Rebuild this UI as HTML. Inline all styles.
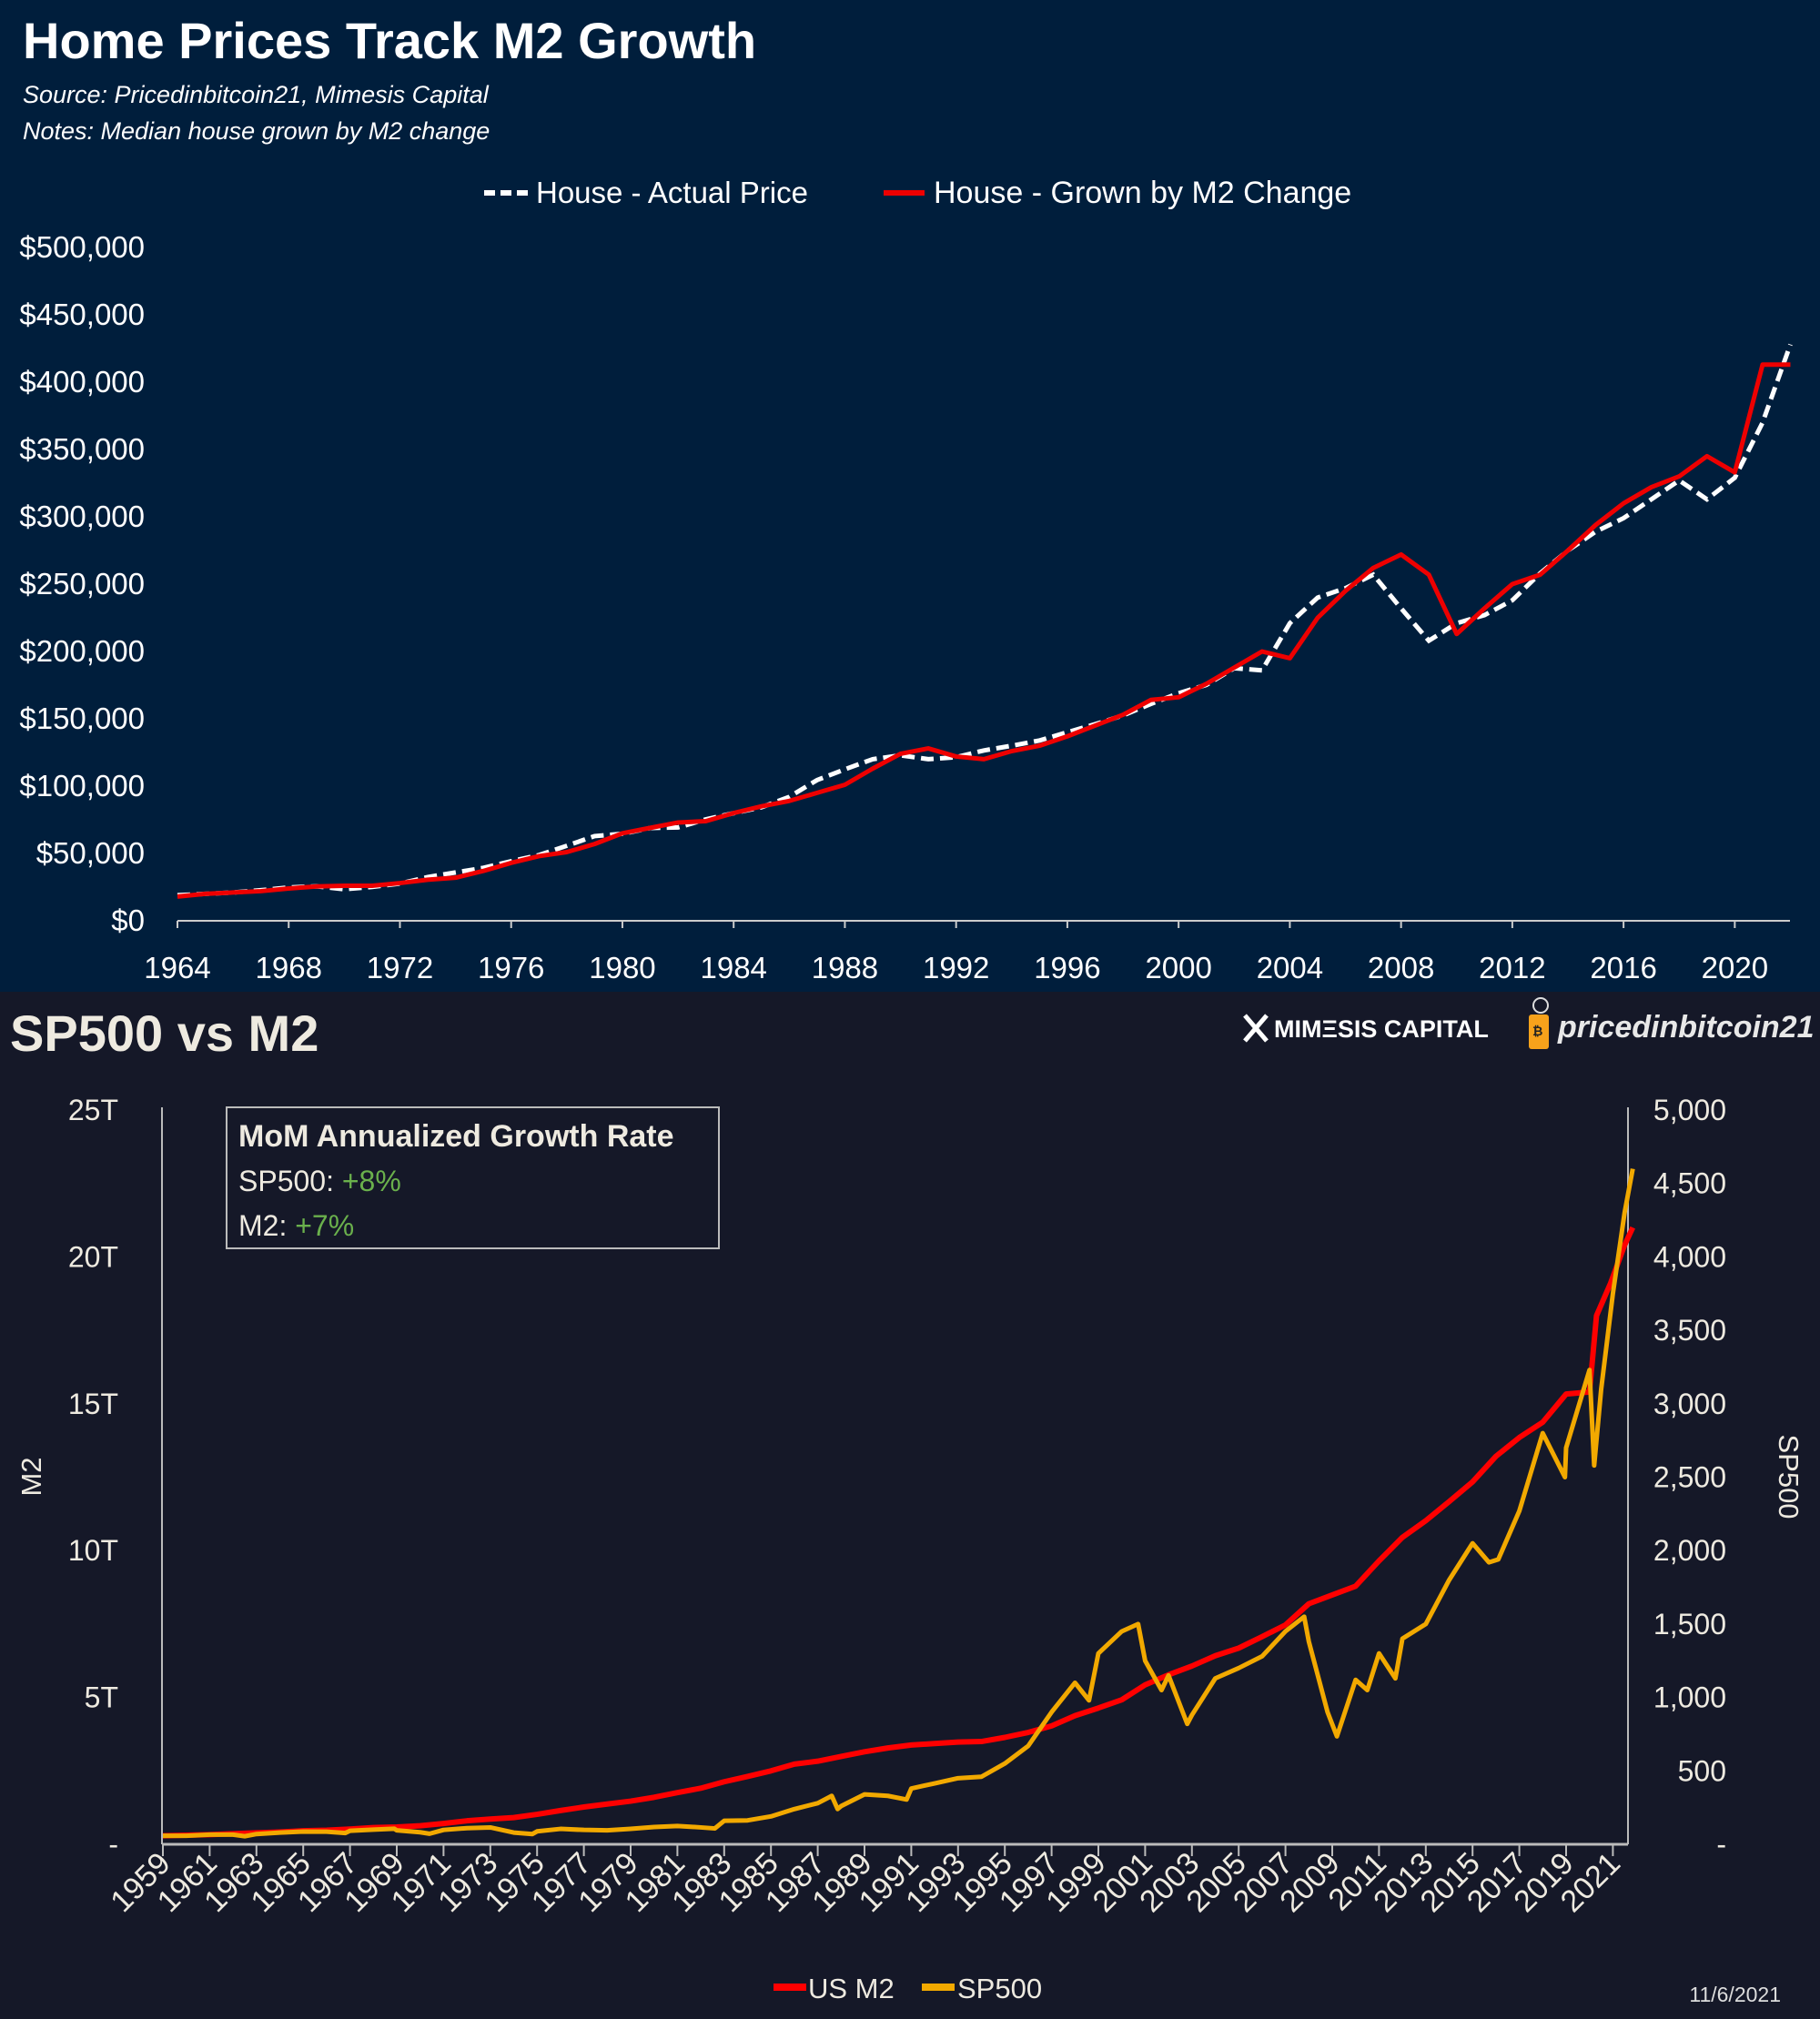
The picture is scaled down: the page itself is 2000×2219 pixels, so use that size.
<!DOCTYPE html>
<html><head><meta charset="utf-8">
<style>
html,body{margin:0;padding:0;background:#151828;}
svg{display:block;font-family:"Liberation Sans",sans-serif;}
</style></head>
<body>
<svg id="chart" width="2000" height="2219" viewBox="0 0 2000 2219" xmlns="http://www.w3.org/2000/svg">
<rect x="0" y="0" width="2000" height="1090" fill="#001e3c"/>
<rect x="0" y="1090" width="2000" height="1129" fill="#151828"/>
<text x="25" y="64" font-size="56" font-weight="bold" fill="#fff">Home Prices Track M2 Growth</text>
<text x="25" y="113" font-size="27" font-style="italic" fill="#fff">Source: Pricedinbitcoin21, Mimesis Capital</text>
<text x="25" y="153" font-size="27" font-style="italic" fill="#fff">Notes: Median house grown by M2 change</text>
<g>
<line x1="532" y1="212" x2="580" y2="212" stroke="#fff" stroke-width="6" stroke-dasharray="12,6"/>
<text x="589" y="223" font-size="33" fill="#fff">House - Actual Price</text>
<line x1="971" y1="212" x2="1016" y2="212" stroke="#e00" stroke-width="6"/>
<text x="1026" y="223" font-size="34" fill="#fff">House - Grown by M2 Change</text>
</g>
<g id="topChart"></g>
<text x="11" y="1155" font-size="56" font-weight="bold" fill="#eeeae0">SP500 vs M2</text>
<g>
<path d="M1368 1116 l12 14 l-12 14 M1392 1116 l-12 14 l12 14" stroke="#fff" stroke-width="5" fill="none"/>
<text x="1400" y="1140" font-size="27" font-weight="bold" fill="#fff">MIMΞSIS CAPITAL</text>
</g>
<g>
<circle cx="1693" cy="1105" r="8" stroke="#ddd" stroke-width="2" fill="none"/>
<rect x="1680" y="1115" width="22" height="38" rx="3" fill="#f7a21b"/>
<text x="1684" y="1138" font-size="14" font-weight="bold" fill="#222">₿</text>
<text x="1712" y="1140" font-size="34" font-weight="bold" font-style="italic" fill="#e8e8e8">pricedinbitcoin21</text>
</g>
<rect x="249" y="1217" width="541" height="155" fill="none" stroke="#bbb" stroke-width="2"/>
<text x="262" y="1260" font-size="34" font-weight="bold" fill="#eeeae0">MoM Annualized Growth Rate</text>
<text x="262" y="1309" font-size="32" fill="#eeeae0">SP500: <tspan fill="#6ab04c">+8%</tspan></text>
<text x="262" y="1358" font-size="32" fill="#eeeae0">M2: <tspan fill="#6ab04c">+7%</tspan></text>
<g id="bottomChart"></g>
<text transform="translate(45,1623) rotate(-90)" text-anchor="middle" font-size="31" fill="#eeeae0">M2</text>
<text transform="translate(1955,1623) rotate(90)" text-anchor="middle" font-size="31" fill="#eeeae0">SP500</text>
<g>
<rect x="850" y="2180" width="36" height="8" fill="#f00"/>
<text x="888" y="2196" font-size="31" fill="#eeeae0">US M2</text>
<rect x="1013" y="2180" width="36" height="8" fill="#f2a900"/>
<text x="1052" y="2196" font-size="31" fill="#eeeae0">SP500</text>
</g>
<text x="1957" y="2200" text-anchor="end" font-size="23" fill="#ddd">11/6/2021</text>
</svg>
<script>
const houseYears = [];
for (let y = 1964; y <= 2022; y++) houseYears.push(y);
const actualPrice = [19,20,21,22.7,24.7,25.6,23.4,25.2,27.6,32.5,35.9,39.3,44.2,48.8,55.7,62.9,64.6,68.9,69.3,75.3,79.9,84.3,92,104.5,112.5,120,122.9,120,121.5,126.5,130,133.9,140,146,152.5,161,169,175.2,187.6,186,221,240,247,257,232,208,221,227,238,258,275,289,299,313,327,313,329,370,428];
const m2GrownPrice = [18,20,21,22,24,25.5,26,26,28,30.5,32,37,43,48,51,57,65,69,73,74,80,85,89,95,101,113,124,128,122,120,126,130,137,145,153,164,166,176,188,200,195,225,245,262,272,257,213,232,250,257,275,294,310,322,330,345,333,413,413];
const priceTicks = [0,50,100,150,200,250,300,350,400,450,500];
const yearTicks = [1964,1968,1972,1976,1980,1984,1988,1992,1996,2000,2004,2008,2012,2016,2020];

const m2Dates = [1959,1960,1961,1962,1963,1964,1965,1966,1967,1968,1969,1970,1971,1972,1973,1974,1975,1976,1977,1978,1979,1980,1981,1982,1983,1984,1985,1986,1987,1988,1989,1990,1991,1992,1993,1994,1995,1996,1997,1998,1999,2000,2001,2002,2003,2004,2005,2006,2007,2008,2009,2010,2011,2012,2013,2014,2015,2016,2017,2018,2019,2020,2020.3,2020.9,2021.5,2021.85];
const m2Values = [0.29,0.31,0.33,0.36,0.39,0.42,0.46,0.48,0.52,0.57,0.59,0.63,0.71,0.80,0.86,0.91,1.02,1.15,1.27,1.37,1.47,1.60,1.76,1.91,2.13,2.31,2.50,2.73,2.83,2.99,3.15,3.28,3.38,3.43,3.48,3.50,3.64,3.81,4.03,4.38,4.64,4.92,5.43,5.77,6.07,6.42,6.68,7.07,7.47,8.19,8.49,8.79,9.65,10.45,11.02,11.67,12.34,13.21,13.85,14.37,15.33,15.4,18.0,19.1,20.4,21.0];
const spDates = [1959,1960,1961,1962,1962.5,1963,1964,1965,1966,1966.8,1967,1968,1968.9,1969,1970,1970.4,1971,1972,1973,1974,1974.8,1975,1976,1977,1978,1979,1980,1981,1982,1982.6,1983,1984,1985,1986,1987,1987.6,1987.85,1988,1989,1990,1990.8,1991,1992,1993,1994,1995,1996,1997,1998,1998.6,1999,2000,2000.7,2001,2001.7,2002,2002.8,2003,2004,2005,2006,2007,2007.8,2008,2008.8,2009.2,2010,2010.5,2011,2011.7,2012,2013,2014,2015,2015.7,2016.1,2017,2018,2018.95,2019,2020,2020.2,2020.5,2021,2021.5,2021.85];
const spValues = [58,58,66,66,55,70,80,87,86,77,92,100,106,95,82,72,98,110,115,80,70,88,105,98,95,105,118,125,115,108,160,163,190,240,280,330,240,260,340,330,305,380,415,450,460,550,670,900,1100,980,1300,1450,1500,1250,1050,1150,820,880,1130,1200,1280,1450,1550,1380,900,735,1120,1050,1300,1130,1400,1500,1800,2050,1920,1940,2270,2800,2500,2700,3230,2580,3100,3750,4300,4600];
const m2Ticks = [0,5,10,15,20,25];
const spTicks = [0,500,1000,1500,2000,2500,3000,3500,4000,4500,5000];
const bottomYearTicks = [];
for (let y = 1959; y <= 2021; y += 2) bottomYearTicks.push(y);

const NS = "http://www.w3.org/2000/svg";
function mk(parent, tag, attrs, text) {
  const e = document.createElementNS(NS, tag);
  for (const k in attrs) e.setAttribute(k, attrs[k]);
  if (text !== undefined) e.textContent = text;
  parent.appendChild(e);
  return e;
}
const tx = y => 195 + (y - 1964) * 30.56;
const ty = v => 1012 - v / 500 * 740;
const topG = document.getElementById('topChart');
priceTicks.forEach(v => {
  const t = mk(topG, 'text', {x: 159, y: ty(v) + 11, 'text-anchor': 'end', 'font-size': 33, fill: '#fff'}, '$' + (v === 0 ? '0' : v + ',000'));
  
  
});
const ax = mk(topG, 'line', {x1: 195, y1: 1012, x2: 1967, y2: 1012, stroke: '#ccc', 'stroke-width': 2});


yearTicks.forEach(y => {
  const l = mk(topG, 'line', {x1: tx(y), y1: 1012, x2: tx(y), y2: 1020, stroke: '#ccc', 'stroke-width': 2});
  
  
  const t = mk(topG, 'text', {x: tx(y), y: 1075, 'text-anchor': 'middle', 'font-size': 33, fill: '#fff'}, y);
  
  
});
const pActual = mk(topG, 'polyline', {points: houseYears.map((y, i) => tx(y) + ',' + ty(actualPrice[i])).join(' '), fill: 'none', stroke: '#fff', 'stroke-width': 5, 'stroke-dasharray': '14,7'});


const pM2 = mk(topG, 'polyline', {points: houseYears.map((y, i) => tx(y) + ',' + ty(m2GrownPrice[i])).join(' '), fill: 'none', stroke: '#e00', 'stroke-width': 5, 'stroke-linejoin': 'round'});



const bx = d => 179 + (d - 1959) * 25.7;
const by1 = v => 2027 - v / 25 * 807;
const by2 = v => 2027 - v / 5000 * 807;
const botG = document.getElementById('bottomChart');
const la = mk(botG, 'line', {x1: 178, y1: 1217, x2: 178, y2: 2027, stroke: '#bbb', 'stroke-width': 2});


const ra = mk(botG, 'line', {x1: 1789, y1: 1217, x2: 1789, y2: 2027, stroke: '#bbb', 'stroke-width': 2});


const xa = mk(botG, 'line', {x1: 178, y1: 2027, x2: 1789, y2: 2027, stroke: '#bbb', 'stroke-width': 3});


m2Ticks.forEach(v => {
  const t = mk(botG, 'text', {x: 130, y: by1(v) + 11, 'text-anchor': 'end', 'font-size': 32, fill: '#eeeae0'}, v === 0 ? '-' : v + 'T');
  
  
});
spTicks.forEach(v => {
  const t = mk(botG, 'text', {x: 1897, y: by2(v) + 11, 'text-anchor': 'end', 'font-size': 32, fill: '#eeeae0'}, v === 0 ? '-' : v.toLocaleString('en-US'));
  
  
});
bottomYearTicks.forEach(y => {
  const l = mk(botG, 'line', {x1: bx(y), y1: 2027, x2: bx(y), y2: 2040, stroke: '#bbb', 'stroke-width': 2});
  
  
  const t = mk(botG, 'text', {transform: 'translate(' + (bx(y) + 10) + ',2050) rotate(-45)', 'text-anchor': 'end', 'font-size': 34, fill: '#eeeae0'}, y);
  
  
});
const m2Line = mk(botG, 'polyline', {points: m2Dates.map((d, i) => bx(d) + ',' + by1(m2Values[i])).join(' '), fill: 'none', stroke: '#f00', 'stroke-width': 6, 'stroke-linejoin': 'round'});


const spLine = mk(botG, 'polyline', {points: spDates.map((d, i) => bx(d) + ',' + by2(spValues[i])).join(' '), fill: 'none', stroke: '#f2a900', 'stroke-width': 5, 'stroke-linejoin': 'round'});


</script>
</body></html>
